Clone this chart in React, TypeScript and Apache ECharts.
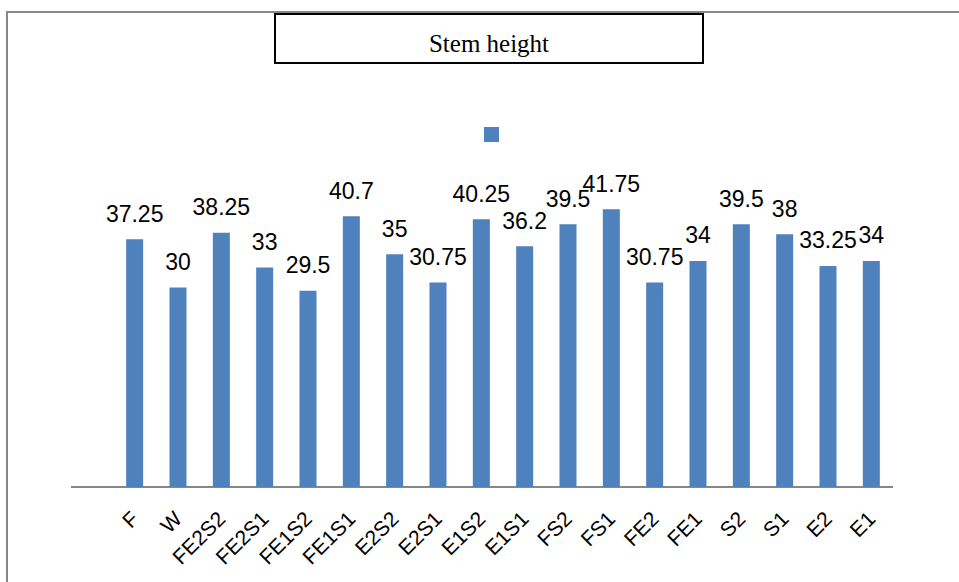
import React, { useEffect, useRef } from "react";
import * as echarts from "echarts";

const categories = ["F", "W", "FE2S2", "FE2S1", "FE1S2", "FE1S1", "E2S2", "E2S1", "E1S2", "E1S1", "FS2", "FS1", "FE2", "FE1", "S2", "S1", "E2", "E1"];
const stemHeight = [37.25, 30, 38.25, 33, 29.5, 40.7, 35, 30.75, 40.25, 36.2, 39.5, 41.75, 30.75, 34, 39.5, 38, 33.25, 34];
const titleText = "Stem height";
const seriesName = " ";

export default function App() {
  const ref = useRef<HTMLDivElement>(null);
  useEffect(() => {
    if (!ref.current) return;
    const chart = echarts.init(ref.current, undefined, { renderer: "svg" });
    const font = "'Liberation Sans', Arial, sans-serif";
    chart.setOption({
      animation: false,
      backgroundColor: "#ffffff",
      grid: { left: 113, right: 66, top: 154.5, bottom: 95, containLabel: false },
      legend: {
        show: true,
        left: 484,
        top: 127,
        padding: 0,
        itemWidth: 15,
        itemHeight: 15,
        icon: "rect",
        data: [{ name: seriesName }],
        textStyle: { fontSize: 12 },
        selectedMode: false,
      },
      xAxis: {
        type: "category",
        data: categories,
        axisLine: { show: false },
        axisTick: { show: false },
        axisLabel: {
          interval: 0,
          rotate: 45,
          margin: 28,
          color: "#000000",
          fontSize: 21,
          fontFamily: font,
        },
      },
      yAxis: {
        type: "value",
        min: 0,
        max: 50,
        show: false,
        splitLine: { show: false },
      },
      series: [
        {
          name: seriesName,
          type: "bar",
          data: stemHeight,
          barWidth: 17,
          itemStyle: { color: "#4F81BD" },
          label: {
            show: true,
            position: "top",
            distance: 14,
            color: "#000000",
            fontSize: 23,
            fontFamily: font,
          },
        },
      ],
      graphic: [
        {
          type: "rect",
          shape: { x: 7, y: 12, width: 1100, height: 1100 },
          style: { fill: "none", stroke: "#878787", lineWidth: 2 },
          silent: true,
        },
        {
          type: "rect",
          shape: { x: 275, y: 14, width: 428, height: 49 },
          style: { fill: "#ffffff", stroke: "#000000", lineWidth: 2 },
          silent: true,
        },
        {
          type: "text",
          x: 489,
          y: 43,
          style: {
            text: titleText,
            fill: "#000000",
            font: "25px 'Liberation Serif', 'Times New Roman', serif",
            textAlign: "center",
            textVerticalAlign: "middle",
          },
          silent: true,
        },
        {
          type: "line",
          shape: { x1: 71, y1: 487, x2: 893, y2: 487 },
          style: { stroke: "#878787", lineWidth: 2 },
          silent: true,
        },
      ],
    });
    return () => chart.dispose();
  }, []);
  return (
    <div
      ref={ref}
      style={{ position: "absolute", left: 0, top: 0, width: 959, height: 582 }}
    />
  );
}
